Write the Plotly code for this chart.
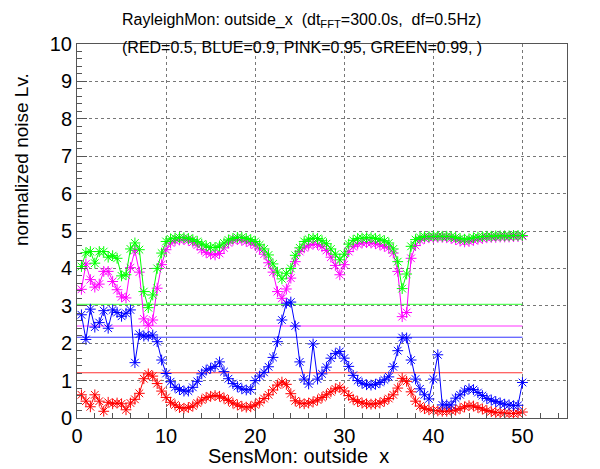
import plotly.graph_objects as go

# frequency axis (df = 0.5 Hz)
freq = [i * 0.5 for i in range(1, 101)]

red = [0.62, 0.45, 0.30, 0.62, 0.45, 0.18, 0.42, 0.38, 0.40, 0.38,
       0.22, 0.40, 0.50, 0.66, 1.05, 1.18, 1.12, 0.92, 0.72, 0.55,
       0.42, 0.35, 0.28, 0.26, 0.28, 0.32, 0.40, 0.48, 0.55, 0.58,
       0.60, 0.58, 0.53, 0.47, 0.40, 0.35, 0.31, 0.29, 0.30, 0.35,
       0.42, 0.52, 0.62, 0.75, 0.88, 0.96, 0.90, 0.65, 0.46, 0.40,
       0.38, 0.40, 0.43, 0.48, 0.55, 0.62, 0.70, 0.78, 0.82, 0.72,
       0.60, 0.50, 0.44, 0.40, 0.38, 0.37, 0.38, 0.40, 0.45, 0.52,
       0.62, 0.80, 1.06, 0.98, 0.70, 0.45, 0.32, 0.25, 0.22, 0.20,
       0.19, 0.18, 0.18, 0.19, 0.21, 0.25, 0.30, 0.33, 0.32, 0.28,
       0.24, 0.20, 0.17, 0.15, 0.14, 0.13, 0.12, 0.12, 0.13, 0.16]

blue = [2.76, 2.10, 2.91, 2.43, 2.55, 2.87, 2.40, 2.89, 2.82, 2.72,
        2.80, 2.89, 1.48, 2.24, 2.19, 2.19, 2.22, 2.04, 1.55, 1.19,
        0.97, 0.82, 0.76, 0.72, 0.72, 0.82, 0.98, 1.18, 1.28, 1.33,
        1.38, 1.50, 1.24, 1.05, 0.92, 0.84, 0.78, 0.75, 0.76, 1.00,
        1.12, 1.22, 1.37, 1.62, 2.04, 2.62, 3.07, 3.10, 2.46, 1.50,
        1.04, 0.91, 1.98, 1.04, 1.18, 1.36, 1.60, 1.72, 1.78, 1.60,
        1.38, 1.14, 1.00, 0.93, 0.89, 0.88, 0.90, 0.95, 1.02, 1.10,
        1.37, 1.80, 2.15, 2.14, 1.55, 1.04, 0.78, 0.62, 0.51, 1.04,
        1.69, 0.35, 0.35, 0.35, 0.53, 0.62, 0.72, 0.78, 0.76, 0.68,
        0.60, 0.52, 0.48, 0.44, 0.40, 0.37, 0.35, 0.33, 0.34, 0.95]

pink = [3.44, 4.12, 3.70, 3.50, 3.58, 3.92, 3.92, 3.65, 3.43, 3.24,
        3.21, 4.02, 4.48, 3.90, 2.65, 2.48, 2.62, 3.47, 4.10, 4.50,
        4.68, 4.74, 4.76, 4.77, 4.75, 4.70, 4.62, 4.50, 4.42, 4.38,
        4.36, 4.40, 4.55, 4.68, 4.75, 4.77, 4.75, 4.72, 4.68, 4.62,
        4.52, 4.38, 4.15, 3.90, 3.38, 3.20, 3.45, 3.74, 4.18, 4.45,
        4.55, 4.62, 4.65, 4.64, 4.58, 4.48, 4.30, 4.08, 3.83, 4.10,
        4.45, 4.58, 4.65, 4.68, 4.69, 4.68, 4.66, 4.63, 4.59, 4.55,
        4.41, 3.92, 2.71, 2.82, 4.27, 4.61, 4.75, 4.80, 4.82, 4.82,
        4.83, 4.83, 4.82, 4.80, 4.77, 4.73, 4.71, 4.72, 4.75, 4.78,
        4.80, 4.82, 4.83, 4.83, 4.84, 4.84, 4.84, 4.85, 4.85, 4.86]

green = [4.05, 4.42, 4.45, 4.14, 4.45, 4.45, 4.30, 4.34, 4.27, 3.80,
         3.83, 4.52, 4.68, 4.50, 3.38, 2.95, 3.29, 4.00, 4.41, 4.72,
         4.79, 4.81, 4.83, 4.82, 4.80, 4.77, 4.72, 4.65, 4.60, 4.56,
         4.56, 4.60, 4.68, 4.76, 4.80, 4.83, 4.83, 4.80, 4.77, 4.72,
         4.63, 4.52, 4.36, 4.12, 3.90, 3.72, 3.87, 4.00, 4.35, 4.55,
         4.72, 4.78, 4.81, 4.80, 4.74, 4.66, 4.52, 4.38, 4.23, 4.38,
         4.65, 4.75, 4.80, 4.81, 4.82, 4.82, 4.80, 4.78, 4.74, 4.68,
         4.52, 4.18, 3.46, 3.85, 4.59, 4.77, 4.83, 4.85, 4.85, 4.86,
         4.86, 4.86, 4.86, 4.85, 4.83, 4.80, 4.78, 4.79, 4.82, 4.84,
         4.85, 4.86, 4.86, 4.87, 4.87, 4.87, 4.87, 4.88, 4.88, 4.88]

# threshold levels (RED=0.5, BLUE=0.9, PINK=0.95, GREEN=0.99)
level_names = ["RED", "BLUE", "PINK", "GREEN"]
level_values = [1.21, 2.16, 2.46, 3.04]
level_x = [0, 50]

colors = {"RED": "#ff0000", "BLUE": "#0000ff", "PINK": "#ff00ff", "GREEN": "#00ff00"}
series = {"RED": red, "BLUE": blue, "PINK": pink, "GREEN": green}

fig = go.Figure()

for name in level_names:
    lv = level_values[level_names.index(name)]
    fig.add_trace(go.Scatter(x=level_x, y=[lv, lv], mode="lines",
                             line=dict(color=colors[name], width=1),
                             opacity=0.8, showlegend=False, hoverinfo="skip"))

for name in level_names:
    fig.add_trace(go.Scatter(x=freq, y=series[name], mode="lines+markers",
                             line=dict(color=colors[name], width=1),
                             marker=dict(symbol="asterisk-open", size=9,
                                         line=dict(color=colors[name], width=1)),
                             showlegend=False, name=name))

font_family = "Liberation Sans, Arial, Helvetica, sans-serif"

fig.update_layout(
    width=600, height=469,
    margin=dict(l=77, r=33, t=44, b=51),
    paper_bgcolor="white", plot_bgcolor="white",
    font=dict(family=font_family, color="black"),
    showlegend=False,
)

fig.update_xaxes(
    range=[0, 55], autorange=False,
    tickvals=[0, 10, 20, 30, 40, 50],
    ticks="inside", ticklen=10, tickcolor="#555", tickwidth=1,
    minor=dict(ticks="inside", ticklen=5, dtick=2, tick0=0, tickcolor="#555", showgrid=False),
    showgrid=True, gridcolor="#777", griddash="dot", gridwidth=1,
    showline=True, linecolor="#555", linewidth=1, mirror=True,
    zeroline=False,
    tickfont=dict(size=20, family=font_family),
)
fig.update_yaxes(
    range=[0, 10], autorange=False,
    tickvals=list(range(0, 11)),
    ticks="inside", ticklen=10, tickcolor="#555", tickwidth=1,
    minor=dict(ticks="inside", ticklen=5, dtick=0.2, tick0=0, tickcolor="#555", showgrid=False),
    showgrid=True, gridcolor="#777", griddash="dot", gridwidth=1,
    showline=True, linecolor="#555", linewidth=1, mirror=True,
    zeroline=False,
    tickfont=dict(size=20, family=font_family),
)

fig.add_annotation(text="RayleighMon: outside_x  (dt<sub>FFT</sub>=300.0s,  df=0.5Hz)",
                   xref="paper", yref="paper", x=0.459, y=1.0, yshift=12,
                   xanchor="center", yanchor="bottom", showarrow=False,
                   font=dict(size=16, family=font_family))
fig.add_annotation(text="(RED=0.5, BLUE=0.9, PINK=0.95, GREEN=0.99, )",
                   xref="paper", yref="paper", x=0.459, y=1.0, yshift=-3,
                   xanchor="center", yanchor="middle", showarrow=False,
                   font=dict(size=16, family=font_family))
fig.add_annotation(text="normalized noise Lv.", textangle=-90,
                   xref="paper", yref="paper", x=-0.112, y=0.69,
                   xanchor="center", yanchor="middle", showarrow=False,
                   font=dict(size=19, family=font_family))
fig.add_annotation(text="SensMon: outside  x",
                   xref="paper", yref="paper", x=0.453, y=0, yshift=-25,
                   xanchor="center", yanchor="top", showarrow=False,
                   font=dict(size=20, family=font_family))

fig.write_html("out.html")
